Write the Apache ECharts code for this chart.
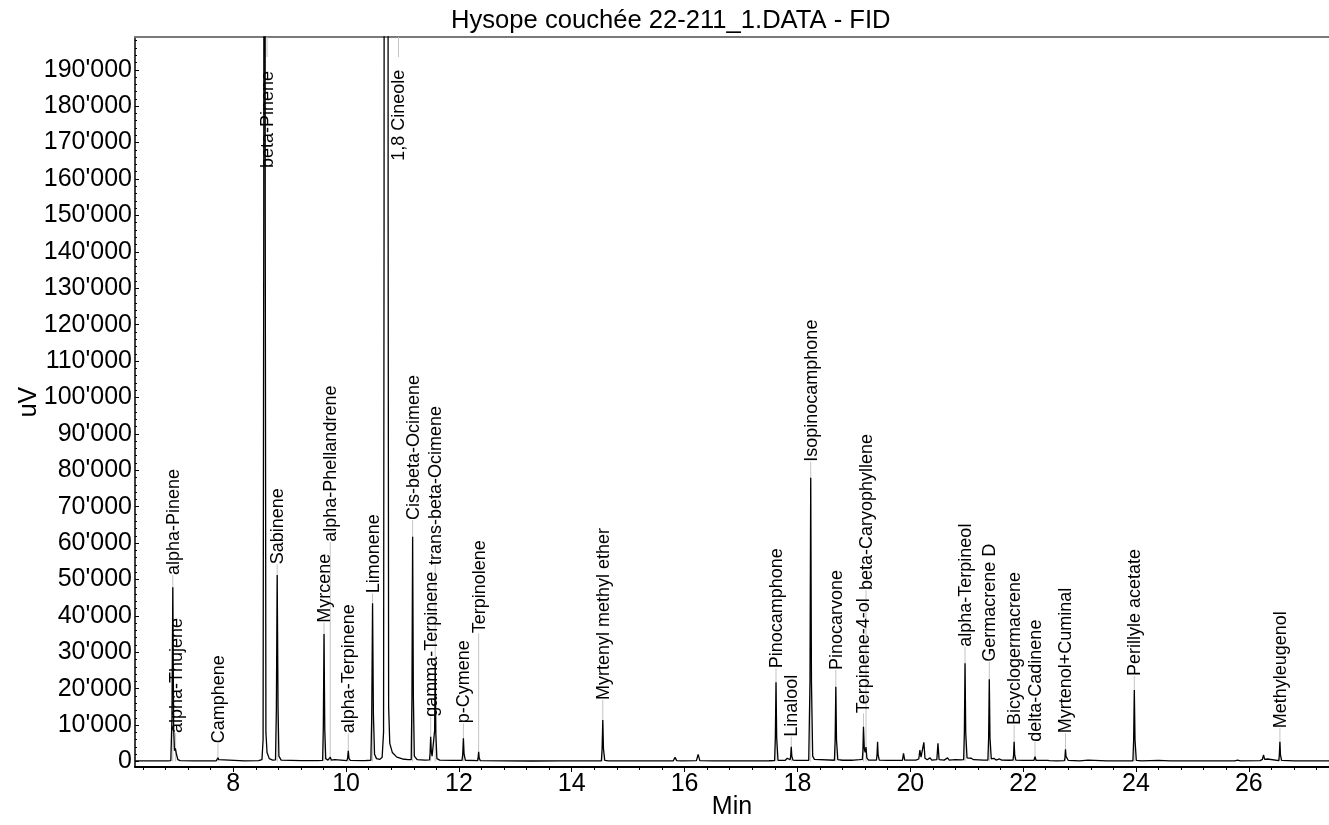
<!DOCTYPE html>
<html>
<head>
<meta charset="utf-8">
<script src="https://cdn.jsdelivr.net/npm/echarts@6/dist/echarts.min.js"></script>
<style>
html,body{margin:0;padding:0;background:#fff;}
#main{width:1329px;height:825px;}
</style>
</head>
<body>
<div id="main"></div>
<script>
// ---- data ----
const chartTitle = "Hysope couchée 22-211_1.DATA - FID";
const xTickValues = [8, 10, 12, 14, 16, 18, 20, 22, 24, 26];
const xMinorTicks = [6.4,6.8,7.2,7.6,8.4,8.8,9.2,9.6,10.4,10.8,11.2,11.6,12.4,12.8,13.2,13.6,14.4,14.8,15.2,15.6,16.4,16.8,17.2,17.6,18.4,18.8,19.2,19.6,20.4,20.8,21.2,21.6,22.4,22.8,23.2,23.6,24.4,24.8,25.2,25.6,26.4,26.8,27.2];
const yTickValues = [0,10000,20000,30000,40000,50000,60000,70000,80000,90000,100000,110000,120000,130000,140000,150000,160000,170000,180000,190000];
const yMinorTicks = [2000,4000,6000,8000,12000,14000,16000,18000,22000,24000,26000,28000,32000,34000,36000,38000,42000,44000,46000,48000,52000,54000,56000,58000,62000,64000,66000,68000,72000,74000,76000,78000,82000,84000,86000,88000,92000,94000,96000,98000,102000,104000,106000,108000,112000,114000,116000,118000,122000,124000,126000,128000,132000,134000,136000,138000,142000,144000,146000,148000,152000,154000,156000,158000,162000,164000,166000,168000,172000,174000,176000,178000,182000,184000,186000,188000,192000,194000,196000,198000];

// chromatogram trace [minutes, uV]
const trace = [
 [6.26,200],[6.6,180],[6.85,200],
 [6.895,250],[6.915,12000],[6.93,47850],[6.945,9000],[6.96,3000],[6.975,3600],[6.985,4070],[6.995,2000],[7.02,500],[7.06,250],
 [7.3,200],[7.6,200],
 [7.70,220],[7.72,700],[7.73,1050],[7.745,500],[7.77,250],
 [8.2,200],[8.45,250],
 [8.51,500],[8.53,6000],[8.542,150000],[8.555,600000],[8.568,150000],[8.58,8000],[8.6,2500],[8.64,800],[8.7,400],
 [8.75,450],[8.765,14000],[8.78,51230],[8.795,15000],[8.81,1500],[8.85,400],
 [9.2,250],[9.5,250],
 [9.585,300],[9.597,9000],[9.61,35020],[9.623,9000],[9.64,800],[9.68,400],
 [9.70,400],[9.72,1200],[9.74,400],[9.8,500],[9.83,300],
 [10.015,250],[10.028,900],[10.04,2970],[10.052,900],[10.075,300],
 [10.28,250],[10.3,450],[10.33,250],
 [10.44,350],[10.455,12000],[10.47,43460],[10.485,13000],[10.505,2000],[10.54,800],
 [10.6,600],[10.64,1200],[10.665,8000],[10.674,150000],[10.682,700000],[10.71,1500000],[10.738,700000],[10.746,150000],[10.755,15000],[10.775,5000],[10.82,2500],[10.9,1200],[11.0,700],[11.1,500],
 [11.155,500],[11.168,18000],[11.18,61760],[11.193,18000],[11.21,1500],[11.26,500],
 [11.4,400],
 [11.48,450],[11.49,2500],[11.50,6810],[11.51,3000],[11.525,1500],
 [11.56,1500],[11.57,8500],[11.58,27000],[11.592,7500],[11.61,800],[11.66,400],
 [11.9,300],
 [12.055,300],[12.068,2000],[12.08,6370],[12.092,2000],[12.115,350],
 [12.33,250],[12.34,900],[12.35,2690],[12.36,900],[12.38,250],
 [12.8,200],[13.3,150],[13.8,180],[14.2,200],
 [14.31,200],[14.33,700],[14.35,200],
 [14.525,220],[14.538,3500],[14.55,11400],[14.562,3500],[14.585,300],[14.65,200],
 [15.0,200],[15.5,200],[15.8,220],[15.83,1150],[15.86,250],[15.95,200],[16.21,250],[16.24,1980],[16.27,250],[16.5,200],[16.83,200],[16.85,350],[16.87,200],[17.03,200],[17.05,350],[17.07,200],[17.5,220],
 [17.595,250],[17.608,6500],[17.62,21750],[17.632,6500],[17.655,350],[17.78,300],[17.8,400],[17.82,900],[17.84,400],
 [17.87,500],[17.88,1500],[17.89,4070],[17.9,1500],[17.92,400],[17.98,300],[18.1,300],[18.2,350],
 [18.21,400],[18.222,22000],[18.235,77960],[18.248,22000],[18.27,1500],[18.3,600],[18.33,400],
 [18.655,350],[18.668,6000],[18.68,20550],[18.692,6000],[18.715,500],[18.8,350],[18.86,350],[18.88,700],[18.9,350],[18.96,350],[18.98,800],[19.0,400],[19.1,500],
 [19.15,600],[19.16,3000],[19.17,9560],[19.185,3500],[19.2,2500],[19.215,4000],[19.23,1000],[19.26,400],
 [19.4,400],[19.41,1800],[19.42,5450],[19.43,1800],[19.45,400],[19.6,300],[19.86,300],[19.88,2250],[19.9,400],[20.1,400],[20.15,700],[20.17,3160],[20.19,1200],[20.215,1500],[20.24,5270],[20.26,900],[20.3,500],[20.35,1000],[20.38,400],[20.47,500],[20.49,5000],[20.51,500],[20.6,400],[20.66,1000],[20.69,400],[20.8,500],[20.9,450],
 [20.945,500],[20.958,8000],[20.97,26980],[20.982,8000],[21.005,1000],[21.08,900],[21.12,500],[21.3,400],
 [21.375,400],[21.388,6500],[21.40,22580],[21.412,6500],[21.435,700],[21.48,900],[21.52,400],[21.58,700],[21.62,400],[21.75,350],
 [21.82,400],[21.83,1800],[21.84,5450],[21.85,1800],[21.87,400],[22.0,300],[22.19,300],[22.21,1330],[22.23,300],[22.31,300],[22.33,700],[22.35,300],[22.43,300],[22.45,600],[22.47,250],[22.6,200],
 [22.73,250],[22.74,1000],[22.75,3340],[22.76,1400],[22.8,300],[23.0,200],[23.15,400],[23.18,200],[23.48,200],[23.5,450],[23.52,200],[23.68,200],[23.7,500],[23.72,200],[23.9,200],
 [23.945,220],[23.958,6000],[23.97,19640],[23.982,6000],[24.005,300],[24.1,200],[24.4,300],[24.6,200],[25.2,180],[25.75,200],[25.8,400],[25.85,200],[26.2,250],
 [26.24,600],[26.26,1790],[26.28,600],[26.31,400],[26.33,700],[26.36,250],
 [26.53,250],[26.54,1800],[26.55,5450],[26.56,1800],[26.58,300],[26.8,200],[27.1,200],[27.42,200]
];

// peak annotations
const labelNames = ["alpha-Pinene","alpha-Thujene","Camphene","beta-Pinene","Sabinene","Myrcene","alpha-Phellandrene","alpha-Terpinene","Limonene","1,8 Cineole","Cis-beta-Ocimene","gamma-Terpinene","trans-beta-Ocimene","p-Cymene","Terpinolene","Myrtenyl methyl ether","Pinocamphone","Linalool","Isopinocamphone","Pinocarvone","Terpinene-4-ol","beta-Caryophyllene","alpha-Terpineol","Germacrene D","Bicyclogermacrene","delta-Cadinene","Myrtenol+Cuminal","Perillyle acetate","Methyleugenol"];
const labelTimes = [6.93,6.98,7.73,8.60,8.78,9.61,9.72,10.04,10.47,10.93,11.18,11.50,11.58,12.08,12.35,14.55,17.62,17.89,18.235,18.68,19.17,19.215,20.97,21.40,21.84,22.21,22.75,23.97,26.55];
const labelAt = [51230,7830,5000,163000,54170,38130,60380,7750,46200,165000,66340,12300,54000,10490,35220,16890,25600,6810,82350,25130,13240,47100,31540,27420,10030,5450,7740,23490,9120];
const leaderFrom = [0,0,0,193500,0,0,0,0,0,193500,0,0,0,0,0,0,0,0,0,0,0,0,0,0,0,0,0,0,0];
const leaderTo = [51230,7830,5000,199000,54170,38130,60380,7750,46200,199000,66340,12300,54000,10490,35220,16890,25600,6810,82350,25130,13240,47100,31540,27420,10030,5450,7740,23490,9120];

// ---- chart ----
const FONT = '"Liberation Sans", Arial, Helvetica, sans-serif';
const X_MIN = 6.26, X_MAX = 27.42, Y_MIN = -1500, Y_MAX = 199000;
const chart = echarts.init(document.getElementById('main'));

function yFmt(v){ return v === 0 ? '0' : (v/1000) + "'000"; }

chart.setOption({
  animation: false,
  backgroundColor: '#ffffff',
  title: {
    text: chartTitle, left: 446, top: 3,
    textStyle: {fontFamily: FONT, fontSize: 25.6, fontWeight: 'normal', color: '#000'}
  },
  grid: {left: 135, right: 0, top: 37, bottom: 58, containLabel: false, outerBoundsMode: 'none'},
  xAxis: [
    {
      type: 'value', min: X_MIN, max: X_MAX, position: 'bottom',
      name: 'Min', nameLocation: 'middle', nameGap: 28, nameMoveOverlap: false,
      nameTextStyle: {fontFamily: FONT, fontSize: 25, color: '#000'},
      axisLine: {show: true, onZero: false, lineStyle: {color: '#000', width: 2}},
      axisTick: {show: true, inside: false, length: 5, customValues: xTickValues, lineStyle: {color: '#000', width: 1}},
      axisLabel: {customValues: xTickValues, fontFamily: FONT, fontSize: 25, color: '#000', margin: 5},
      splitLine: {show: false}
    },
    {
      type: 'value', min: X_MIN, max: X_MAX, position: 'bottom',
      axisLine: {show: false, onZero: false},
      axisTick: {show: true, inside: false, length: 3, customValues: xMinorTicks, lineStyle: {color: '#000', width: 1}},
      axisLabel: {show: false},
      splitLine: {show: false}
    },
    {
      type: 'value', min: X_MIN, max: X_MAX, position: 'top',
      axisLine: {show: true, onZero: false, lineStyle: {color: '#7a7a7a', width: 2}},
      axisTick: {show: false}, axisLabel: {show: false}, splitLine: {show: false}
    }
  ],
  yAxis: [
    {
      type: 'value', min: Y_MIN, max: Y_MAX, position: 'left',
      name: 'uV', nameLocation: 'middle', nameGap: 93, nameMoveOverlap: false,
      nameTextStyle: {fontFamily: FONT, fontSize: 25, color: '#000'},
      axisLine: {show: true, onZero: false, lineStyle: {color: '#000', width: 1.5}},
      axisTick: {show: true, inside: true, length: 4, customValues: yTickValues, lineStyle: {color: '#000', width: 1}},
      axisLabel: {customValues: yTickValues, formatter: yFmt, fontFamily: FONT, fontSize: 25, color: '#000', margin: 3},
      splitLine: {show: false}
    },
    {
      type: 'value', min: Y_MIN, max: Y_MAX, position: 'left',
      axisLine: {show: false, onZero: false},
      axisTick: {show: true, inside: true, length: 2, customValues: yMinorTicks, lineStyle: {color: '#000', width: 1}},
      axisLabel: {show: false},
      splitLine: {show: false}
    }
  ],
  series: [
    {
      type: 'custom', name: 'leaders', xAxisIndex: 0, yAxisIndex: 0, z: 1, silent: true,
      encode: {x: 0, y: [1, 2]},
      data: labelTimes.map((t, i) => [t, leaderFrom[i], leaderTo[i]]),
      renderItem: function (params, api) {
        const p0 = api.coord([api.value(0), api.value(1)]);
        const p1 = api.coord([api.value(0), api.value(2)]);
        return {type: 'line', shape: {x1: p0[0], y1: p0[1], x2: p1[0], y2: p1[1]},
                style: {stroke: '#c4c4c4', lineWidth: 1}};
      }
    },
    {
      type: 'line', name: 'FID', xAxisIndex: 0, yAxisIndex: 0, z: 2,
      data: trace, showSymbol: false, symbol: 'none', clip: true,
      lineStyle: {color: '#000', width: 1.3}
    },
    {
      type: 'custom', name: 'labels', xAxisIndex: 0, yAxisIndex: 0, z: 3, silent: true,
      encode: {x: 0, y: 1},
      data: labelTimes.map((t, i) => [t, labelAt[i]]),
      renderItem: function (params, api) {
        const p = api.coord([api.value(0), api.value(1)]);
        return {type: 'text', x: p[0] + 1, y: p[1], rotation: Math.PI / 2,
                style: {text: labelNames[params.dataIndex], fill: '#000',
                        font: '18px ' + FONT, align: 'left', verticalAlign: 'middle'}};
      }
    }
  ]
});
</script>
</body>
</html>
